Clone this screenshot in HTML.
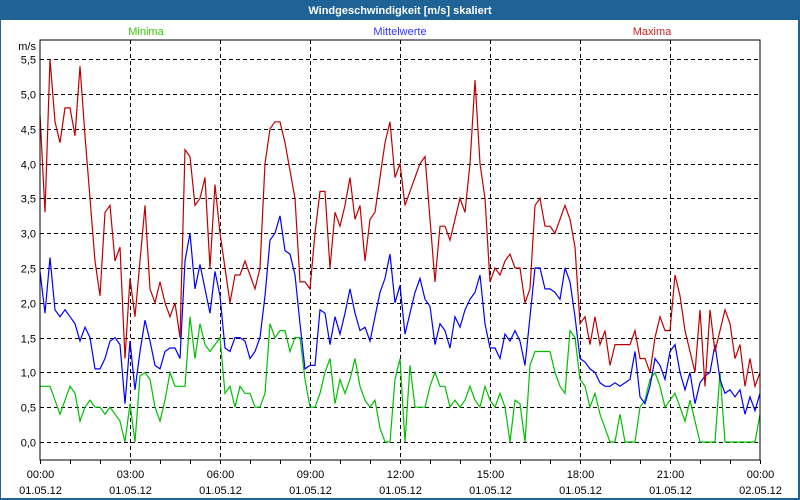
<!DOCTYPE html>
<html><head><meta charset="utf-8"><style>
body{margin:0;width:800px;height:500px;overflow:hidden;background:#1e6296;font-family:"Liberation Sans",sans-serif}
#win{position:absolute;left:1px;top:20px;width:797px;height:478px;background:#fff}
</style></head><body>
<div id="win"></div>
<svg id="c" width="800" height="500" style="position:absolute;left:0;top:0">
<text x="400" y="14" text-anchor="middle" fill="#fff" font-weight="bold" font-size="11">Windgeschwindigkeit [m/s] skaliert</text>
<text x="146" y="35" text-anchor="middle" fill="#33cc00" font-size="11">Minima</text>
<text x="400" y="35" text-anchor="middle" fill="#3333ff" font-size="11">Mittelwerte</text>
<text x="652" y="35" text-anchor="middle" fill="#cc2222" font-size="11">Maxima</text>
<text x="36" y="50" text-anchor="end" font-size="11" fill="#000">m/s</text>
<g id="grid"></g><g id="series"></g>
<rect x="40" y="40" width="720" height="420" fill="none" stroke="#000" stroke-width="1"/>
<g id="axes"></g>
</svg>
<script>
const yTicks=["0,0","0,5","1,0","1,5","2,0","2,5","3,0","3,5","4,0","4,5","5,0","5,5"];
const yTickValues=[0,0.5,1,1.5,2,2.5,3,3.5,4,4.5,5,5.5];
const xTimeLabels=["00:00","03:00","06:00","09:00","12:00","15:00","18:00","21:00","00:00"];
const xDateLabels=["01.05.12","01.05.12","01.05.12","01.05.12","01.05.12","01.05.12","01.05.12","01.05.12","02.05.12"];
const maxima=[4.7,3.3,5.5,4.6,4.3,4.8,4.8,4.4,5.4,4.4,3.5,2.6,2.1,3.3,3.4,2.6,2.8,1.2,2.35,1.8,2.6,3.4,2.2,2.0,2.3,2.0,1.8,2.0,1.5,4.2,4.1,3.4,3.5,3.8,2.5,3.7,3.0,2.5,2.0,2.4,2.4,2.6,2.4,2.2,2.5,4.0,4.5,4.6,4.6,4.3,3.9,3.5,2.3,2.3,2.2,3.0,3.6,3.6,2.5,3.3,3.1,3.4,3.8,3.2,3.4,2.6,3.2,3.3,3.8,4.3,4.6,3.8,4.0,3.4,3.6,3.8,4.0,4.1,3.2,2.3,3.1,3.1,2.9,3.2,3.5,3.3,4.0,5.2,4.0,3.5,2.3,2.5,2.4,2.6,2.7,2.5,2.5,2.0,2.2,3.4,3.5,3.1,3.1,3.0,3.2,3.4,3.2,2.8,1.7,1.8,1.4,1.8,1.4,1.6,1.1,1.4,1.4,1.4,1.4,1.6,1.2,1.2,1.0,1.5,1.8,1.6,1.6,2.4,2.1,1.6,1.3,1.0,1.9,0.8,1.9,1.3,1.6,1.9,1.7,1.2,1.4,0.8,1.2,0.8,1.0];
const mittel=[2.45,1.85,2.65,1.9,1.8,1.9,1.8,1.7,1.45,1.65,1.5,1.05,1.05,1.2,1.45,1.5,1.4,0.55,1.45,0.75,1.3,1.75,1.45,1.1,1.05,1.3,1.35,1.35,1.2,2.6,3.0,2.2,2.55,2.2,1.85,2.45,2.1,1.35,1.3,1.5,1.5,1.45,1.2,1.3,1.5,2.1,2.9,3.0,3.25,2.75,2.7,2.4,1.7,1.05,1.1,1.1,1.9,1.85,1.4,1.8,1.55,1.85,2.2,1.85,1.6,1.65,1.45,1.8,2.15,2.35,2.7,2.0,2.25,1.55,1.85,2.15,2.35,2.05,1.95,1.4,1.7,1.6,1.35,1.8,1.65,1.9,2.05,2.15,2.4,1.7,1.35,1.35,1.2,1.55,1.45,1.6,1.45,1.1,1.8,2.5,2.5,2.2,2.2,2.15,2.05,2.5,2.3,1.8,1.2,1.15,1.05,1.0,0.85,0.8,0.8,0.85,0.8,0.85,0.9,1.3,0.65,0.55,0.8,1.2,1.1,0.9,1.3,1.4,1.0,0.75,1.0,0.55,0.85,0.95,1.0,1.4,0.9,0.7,0.75,0.65,0.75,0.4,0.65,0.45,0.7];
const minima=[0.8,0.8,0.8,0.6,0.4,0.6,0.8,0.7,0.3,0.5,0.6,0.5,0.5,0.4,0.5,0.4,0.3,0.0,0.55,0.0,0.95,1.0,0.9,0.5,0.3,0.6,1.0,0.8,0.8,0.8,1.8,1.2,1.7,1.4,1.3,1.4,1.5,0.7,0.8,0.5,0.8,0.7,0.7,0.5,0.5,0.7,1.7,1.5,1.6,1.6,1.3,1.5,1.5,0.9,0.5,0.5,0.7,1.0,1.2,0.55,0.9,0.7,0.9,1.2,0.8,0.6,0.5,0.6,0.2,0.0,0.0,0.9,1.2,0.0,1.1,0.5,0.5,0.5,0.8,1.0,0.8,0.8,0.5,0.6,0.5,0.6,0.8,0.6,0.5,0.8,0.6,0.5,0.7,0.5,0.0,0.6,0.55,0.0,1.1,1.3,1.3,1.3,1.3,1.0,0.8,0.7,1.6,1.5,0.9,0.8,0.5,0.7,0.4,0.2,0.0,0.0,0.4,0.0,0.0,0.0,0.5,0.6,0.9,1.0,0.8,0.5,0.6,0.7,0.5,0.3,0.6,0.3,0.0,0.0,0.0,0.0,1.0,0.0,0.0,0.0,0.0,0.0,0.0,0.0,0.4];
const NS="http://www.w3.org/2000/svg";
const X0=40,X1=760,Y0=442,PXV=69.6;
function xh(h){return X0+(X1-X0)*h/24;}
function yv(v){return Y0-v*PXV;}
function mk(t,a,p){const e=document.createElementNS(NS,t);for(const k in a)e.setAttribute(k,a[k]);p.appendChild(e);return e;}
const grid=document.getElementById('grid'),axes=document.getElementById('axes'),ser=document.getElementById('series');
yTickValues.forEach((v,i)=>{
  const y=Math.round(yv(v))+0.5;
  const l=mk('line',{x1:X0,x2:X1,y1:y,y2:y,stroke:'#000','stroke-dasharray':'4,3','stroke-width':1},grid);
  
  
  const t=mk('text',{x:36,y:y+4,'text-anchor':'end','font-size':11,fill:'#000'},axes);
  t.textContent=yTicks[i];
  
  
});
for(let h=0;h<=24;h++){
  const x=Math.round(xh(h))+0.5;
  const tk=mk('line',{x1:x,x2:x,y1:460,y2:464,stroke:'#000'},axes);
  
  
  if(h%3===0){
    const i=h/3;
    if(h>0&&h<24){const g=mk('line',{x1:x,x2:x,y1:40,y2:460,stroke:'#000','stroke-dasharray':'4,3'},grid);
      
      }
    const t1=mk('text',{x:x,y:478,'text-anchor':'middle','font-size':11,fill:'#000'},axes);t1.textContent=xTimeLabels[i];
    
    
    const t2=mk('text',{x:x,y:494,'text-anchor':'middle','font-size':11,fill:'#000'},axes);t2.textContent=xDateLabels[i];
    
    
  }
}
function line(arr,color,name){
  const n=arr.length;
  const pts=arr.map((v,i)=>xh(24*i/(n-1)).toFixed(1)+','+yv(v).toFixed(1)).join(' ');
  const p=mk('polyline',{points:pts,fill:'none',stroke:color,'stroke-width':1.2},ser);
  
  
}
line(minima,'#00c000','minima-line');
line(mittel,'#0000ff','mittelwerte-line');
line(maxima,'#c00000','maxima-line');
</script>
</body></html>
